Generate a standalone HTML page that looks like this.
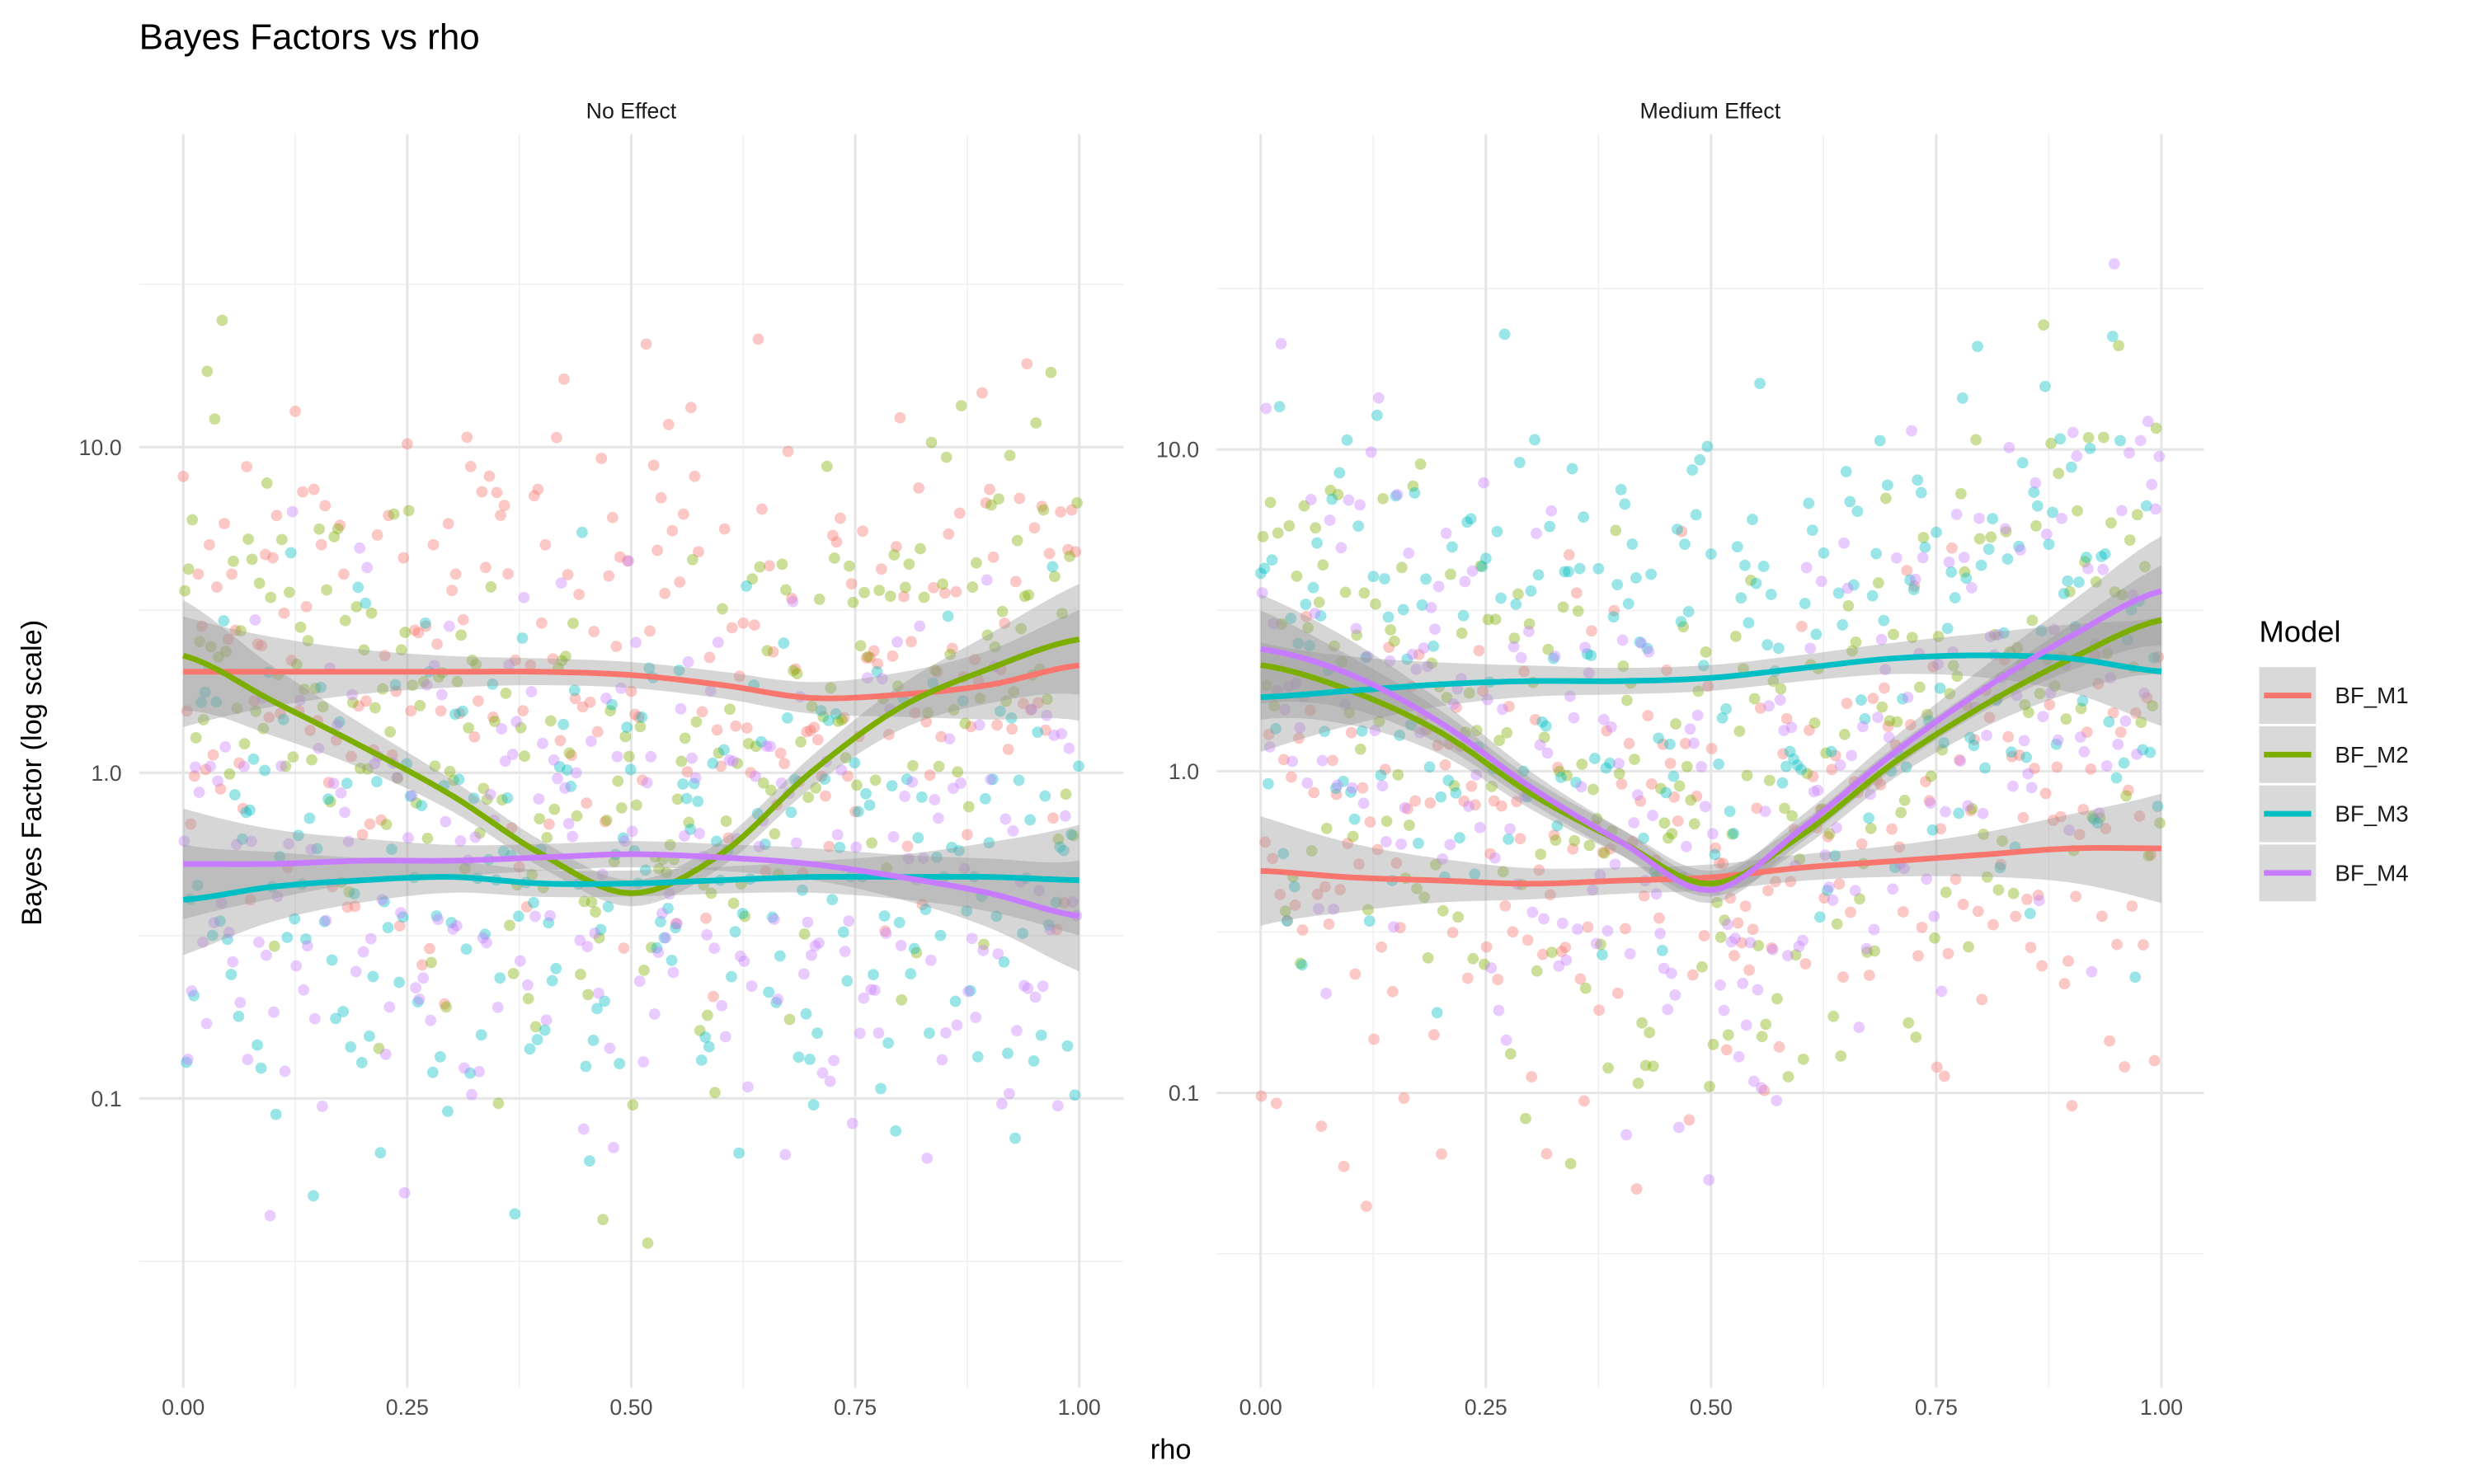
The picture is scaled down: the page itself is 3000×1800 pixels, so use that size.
<!DOCTYPE html>
<html><head><meta charset="utf-8"><style>
html,body{margin:0;padding:0;background:#fff}
svg{display:block}
text{font-family:"Liberation Sans",Arial,sans-serif}
</style></head><body>
<svg id="chart" width="3000" height="1800" viewBox="0 0 1568 941" xmlns="http://www.w3.org/2000/svg">
<rect width="1568" height="941" fill="#fff"/>
<text x="88" y="31" font-size="23" fill="#000">Bayes Factors vs rho</text>
<text x="742" y="925" font-size="18" text-anchor="middle">rho</text>
<text transform="translate(26,490) rotate(-90)" font-size="18" text-anchor="middle">Bayes Factor (log scale)</text>
<g id="panels"></g>
<g>
<text x="1432" y="407" font-size="19">Model</text>
<g id="legend"></g>
</g>
</svg>
<script>
const models = ["BF_M1","BF_M2","BF_M3","BF_M4"];
const colors = ["#F8766D","#7CAE00","#00BFC4","#C77CFF"];
const panelNames = ["No Effect","Medium Effect"];
const xTicks = [0,0.25,0.5,0.75,1];
const xTickLabels = ["0.00","0.25","0.50","0.75","1.00"];
const yTicks = [0.1,1,10];
const yTickLabels = ["0.1","1.0","10.0"];
const smoothRho = [0,0.1,0.2,0.3,0.4,0.5,0.6,0.7,0.8,0.9,1];
// smooth curves, log10(BF)
const noM1 = [0.31,0.31,0.31,0.31,0.31,0.30,0.27,0.23,0.24,0.27,0.33];
const noM2 = [0.36,0.22,0.08,-0.07,-0.25,-0.37,-0.25,0.0,0.2,0.32,0.41];
const noM3 = [-0.39,-0.35,-0.33,-0.32,-0.34,-0.34,-0.33,-0.32,-0.32,-0.32,-0.33];
const noM4 = [-0.28,-0.28,-0.27,-0.27,-0.26,-0.25,-0.26,-0.28,-0.32,-0.37,-0.44];
const medM1 = [-0.31,-0.33,-0.34,-0.35,-0.34,-0.33,-0.30,-0.28,-0.26,-0.24,-0.24];
const medM2 = [0.33,0.25,0.12,-0.07,-0.22,-0.35,-0.2,0.02,0.2,0.35,0.47];
const medM3 = [0.23,0.25,0.27,0.28,0.28,0.29,0.32,0.35,0.36,0.35,0.31];
const medM4 = [0.38,0.3,0.15,-0.05,-0.22,-0.37,-0.18,0.05,0.25,0.42,0.56];
// scatter residuals (log10) around each curve
const resA = [0.6,-0.3,0.1,-0.7,0.35,0.8,-0.15,0.45,-0.5,0.05,0.7,-0.85,0.25,-0.2,0.55,-0.6,0.15,0.9,-0.4,0.3,-0.05,0.65,-0.75,0.4,-0.25,0.2,-0.55,0.75,-0.1,0.5,-0.35,0.1,0.85,-0.65,0.3,-0.45,0.6,-0.15,0.45,-0.8];
const resB = [-0.4,0.5,-0.1,0.7,-0.6,0.2,0.9,-0.3,0.4,-0.75,0.15,0.6,-0.45,0.3,-0.2,0.8,-0.55,0.05,0.45,-0.85,0.35,-0.1,0.65,-0.35,0.55,-0.65,0.1,0.25,-0.5,0.75,-0.25,0.5,-0.7,0.2,0.6,-0.15,0.4,-0.9,0.3,0.7];
const resC = [0.2,-0.65,0.55,-0.1,0.8,-0.35,0.3,-0.8,0.45,0.1,-0.5,0.7,-0.25,0.4,-0.7,0.15,0.6,-0.4,0.85,-0.15,0.25,-0.6,0.5,0.0,-0.3,0.75,-0.45,0.35,-0.85,0.55,0.1,-0.2,0.65,-0.55,0.4,0.9,-0.35,0.2,-0.7,0.5];
const resD = [-0.7,0.35,0.8,-0.25,0.1,-0.5,0.6,0.25,-0.85,0.45,-0.15,0.7,-0.4,0.05,0.55,-0.6,0.3,-0.3,0.75,-0.1,0.5,-0.75,0.15,0.9,-0.45,0.2,0.6,-0.2,-0.65,0.4,0.8,-0.5,0.1,0.35,-0.9,0.65,-0.3,0.45,0.0,-0.55];
const panelCurves = [[noM1,noM2,noM3,noM4],[medM1,medM2,medM3,medM4]];
const residuals = [resA,resB,resC,resD];
const passScale = [1.0,0.6,0.85,0.4,1.2,0.7];

const NS="http://www.w3.org/2000/svg";
const panelsG=document.getElementById('panels');
const panelGeo=[{x0:88,x1:712,xa:116,xb:684,y1:490,dec:206.5},{x0:771,x1:1397,xa:799,xb:1370,y1:489,dec:204}];
const yTop=85,yBot=880;
function mk(tag,attrs,parent){const e=document.createElementNS(NS,tag);for(const k in attrs)e.setAttribute(k,attrs[k]);parent.appendChild(e);return e;}
function interp(arr,r){
  const t=r*10;const i=Math.min(9,Math.floor(t));const f=t-i;
  const p0=arr[Math.max(0,i-1)],p1=arr[i],p2=arr[i+1],p3=arr[Math.min(10,i+2)];
  return 0.5*((2*p1)+(-p0+p2)*f+(2*p0-5*p1+4*p2-p3)*f*f+(-p0+3*p1-3*p2+p3)*f*f*f);
}

panelGeo.forEach((g,p)=>{
  const xs=r=>g.xa+(g.xb-g.xa)*r;
  const ys=l=>g.y1-g.dec*l;
  const pg=mk('g',{},panelsG);
  
  
  [0.125,0.375,0.625,0.875].forEach(v=>{const l=mk('line',{x1:xs(v),x2:xs(v),y1:yTop,y2:yBot,stroke:'#f0f0f0','stroke-width':0.8},pg);
    
    });
  [-1.5,-0.5,0.5,1.5].forEach(v=>{const y=ys(v);if(y<yTop||y>yBot)return;const l=mk('line',{x1:g.x0,x2:g.x1,y1:y,y2:y,stroke:'#f0f0f0','stroke-width':0.8},pg);
    
    });
  xTicks.forEach((v,i)=>{const l=mk('line',{x1:xs(v),x2:xs(v),y1:yTop,y2:yBot,stroke:'#e6e6e6','stroke-width':1.6},pg);
    
    
    const t=mk('text',{x:xs(v),y:897,'font-size':14,fill:'#4d4d4d','text-anchor':'middle'},pg);t.textContent=xTickLabels[i];
    
    });
  yTicks.forEach((v,i)=>{const y=ys(Math.log10(v));const l=mk('line',{x1:g.x0,x2:g.x1,y1:y,y2:y,stroke:'#e6e6e6','stroke-width':1.6},pg);
    
    
    const t=mk('text',{x:g.x0-11,y:y+5,'font-size':14,fill:'#4d4d4d','text-anchor':'end'},pg);t.textContent=yTickLabels[i];
    
    });
  const st=mk('text',{x:(g.x0+g.x1)/2,y:75,'font-size':14,fill:'#1a1a1a','text-anchor':'middle'},pg);st.textContent=panelNames[p];
  
  
  const curves=panelCurves[p];
  curves.forEach((c,m)=>{
    const res=residuals[m];
    const n=res.length;
    for(let pass=0;pass<passScale.length;pass++){
      for(let i=0;i<n;i++){
        const r=((i+pass/passScale.length+0.07*m+0.03*p)/n)%1;
        const rv=res[(i*(pass*7+1)+pass*13+m*5+p*3)%n]*passScale[pass];
        const y=ys(interp(c,r)+rv);
        if(y<yTop||y>yBot)continue;
        const ci=mk('circle',{cx:xs(r),cy:y,r:3.6,fill:colors[m],'fill-opacity':0.4},pg);
        
        
      }
    }
  });
  curves.forEach((c,m)=>{
    const up=[],dn=[];
    for(let k=0;k<=80;k++){const r=k/80;const v=interp(c,r);const w=0.04+0.13*Math.pow(Math.abs(r-0.5)*2,3);
      up.push(xs(r)+','+ys(v+w));dn.unshift(xs(r)+','+ys(v-w));}
    const rb=mk('polygon',{points:up.concat(dn).join(' '),fill:'#999','fill-opacity':0.4},pg);
    
    
  });
  curves.forEach((c,m)=>{
    const ln=[];for(let k=0;k<=80;k++){const r=k/80;ln.push(xs(r)+','+ys(interp(c,r)));}
    const pl=mk('polyline',{points:ln.join(' '),fill:'none',stroke:colors[m],'stroke-width':3.6,'stroke-linejoin':'round'},pg);
    
    
  });
});
const lg=document.getElementById('legend');
models.forEach((m,i)=>{
  const y=441+i*37.5;
  const g=mk('g',{},lg);
  
  
  mk('rect',{x:1432,y:y-18,width:36,height:36,fill:'#d9d9d9'},g);
  mk('line',{x1:1435,x2:1465,y1:y,y2:y,stroke:colors[i],'stroke-width':3.6},g);
  const t=mk('text',{x:1480,y:y+5,'font-size':14.5,fill:'#1a1a1a'},g);t.textContent=m;
});
</script>
</body></html>
